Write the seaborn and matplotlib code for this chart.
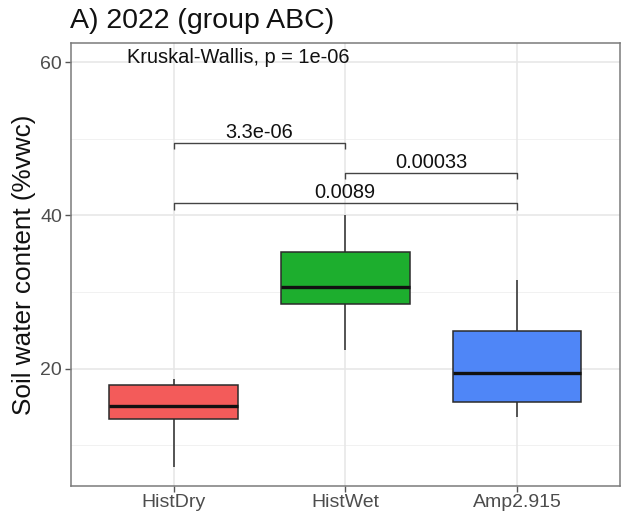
import matplotlib
matplotlib.use("Agg")
import matplotlib.pyplot as plt
import seaborn as sns
import pandas as pd
import numpy as np

# Five-number summaries per treatment (min, Q1, median, Q3, max)
groups = ["HistDry", "HistWet", "Amp2.915"]
hist_dry = [7.2, 13.5, 15.2, 17.9, 18.7]
hist_wet = [22.4, 28.5, 30.6, 35.2, 40.0]
amp_2915 = [13.7, 15.7, 19.4, 24.9, 31.6]
colors = ["#F35B5A", "#1DAE2E", "#4F86F7"]

# Pairwise comparisons: (group a, group b, bracket height, p label)
pair_a = [0, 1, 0]
pair_b = [1, 2, 2]
bracket_y = [49.5, 45.6, 41.6]
pair_labels = ["3.3e-06", "0.00033", "0.0089"]
kw_label = "Kruskal-Wallis, p = 1e-06"

df = pd.DataFrame({
    "group": np.repeat(groups, 5),
    "swc": hist_dry + hist_wet + amp_2915,
})

sns.set_theme(style="white")
plt.rcParams["font.family"] = ["Liberation Sans", "DejaVu Sans"]

fig = plt.figure(figsize=(6.21, 5.18), dpi=100)
ax = fig.add_axes([70.5 / 621, (518 - 486) / 518, (620 - 70.5) / 621, (486 - 43) / 518])

# grid
for y in [10, 30, 50]:
    ax.axhline(y, color="#EFEFEF", lw=0.6, zorder=0)
for y in [20, 40, 60]:
    ax.axhline(y, color="#E6E6E6", lw=1.1, zorder=0)
for x in range(3):
    ax.axvline(x, color="#E6E6E6", lw=1.1, zorder=0)

sns.boxplot(
    data=df, x="group", y="swc", hue="group", palette=colors, order=groups,
    width=0.75, linecolor="#2b2b2b", linewidth=1.1, showcaps=False,
    medianprops=dict(color="#111111", linewidth=2.4), legend=False,
    saturation=1, ax=ax, zorder=2,
)

# significance brackets
tip = 0.85
for a, b, yb, lab in zip(pair_a, pair_b, bracket_y, pair_labels):
    ax.plot([a, a, b, b], [yb - tip, yb, yb, yb - tip], color="#444444", lw=1.0,
            solid_capstyle="butt", zorder=3)
    ax.text((a + b) / 2, yb + 1.35, lab, ha="center", va="center",
            fontsize=14.4, color="#111111")

ax.text(-0.27, 60.65, kw_label, ha="left", va="center", fontsize=14.4, color="#111111")

ax.set_xlim(-0.6, 2.6)
ax.set_ylim(4.7, 62.5)
ax.set_yticks([20, 40, 60])
ax.set_xlabel("")
ax.set_ylabel("Soil water content (%vwc)", fontsize=18.8, color="#111111", labelpad=3)
ax.set_title("A) 2022 (group ABC)", loc="left", fontsize=20.5, color="#111111", pad=11)

ax.tick_params(axis="both", which="major", length=4, width=1, color="#555555",
               labelsize=14, labelcolor="#4D4D4D", bottom=True, left=True, pad=2)
for s in ax.spines.values():
    s.set_color("#7a7a7a")
    s.set_linewidth(1.1)

fig.savefig("out.png", dpi=100)
